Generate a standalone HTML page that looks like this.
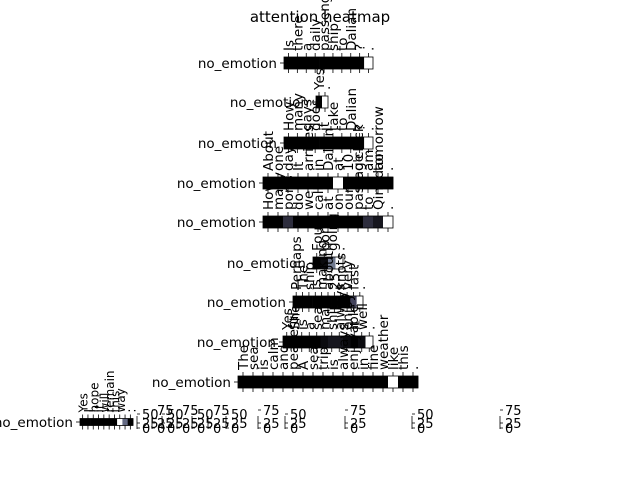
<!DOCTYPE html>
<html><head><meta charset="utf-8">
<style>
html,body{margin:0;padding:0;background:#fff;}
svg{display:block;font-family:"DejaVu Sans","Liberation Sans",sans-serif;}
</style></head>
<body>
<svg id="chart" width="640" height="480" viewBox="0 0 640 480">
<text x="320" y="22" text-anchor="middle" font-size="15">attention heatmap</text>
<g id="rows"></g>
<g id="cbars"></g>
</svg>
<script>
const rowWords = [
 ["Is","there","a","daily","passenger","ship","to","Dalian","?","."],
 ["Yes","."],
 ["How","many","days","does","it","take","to","Dalian","?","."],
 ["About","one","day","It","arrives","in","Dalian","at","10","o'clock","am","tomorrow","."],
 ["How","many","ports","do","we","call","at","on","our","passage","to","Qingdao","."],
 ["Four","ports","going","."],
 ["Perhaps","The","ship","is","making","about","25","knots","very","fast","."],
 ["Yes","She","is","a","sea","mark","ship","always","enjoy","it","well","."],
 ["The","sea","is","calm","and","peaceful","A","sea","trip","is","always","enjoyable","in","fine","weather","like","this","."],
 ["Yes","I","hope","it","will","remain","this","way",".","."]
];
const rowValues = [
 [0,0,0,0,0,0,0,0,0,1],
 [0,1],
 [0,0,0,0,0,0,0,0,0,1],
 [0,0,0,0,0,0,0,1,0,0,0,0,0],
 [0,0,0.2,0,0,0,0,0,0,0,0.2,0.1,1],
 [0,0.05,0.5,1],
 [0,0,0,0,0,0,0,0,0,0.3,1],
 [0,0,0,0,0,0.05,0.1,0.1,0.05,0,0.05,1],
 [0,0,0,0,0,0,0,0,0,0,0,0,0,0,0,1,0,0],
 [0,0,0,0,0,0,0,1,0.45,0]
];
const rowBoxes = [[284,373,63],[316,328,102],[284,373,143],[263,393,183],[263,393,222],[313,343,263],[293,363,302],[283,373,342],[238,418,382],[80,133,422]];
const ns="http://www.w3.org/2000/svg";
function bone(v){
  const r=v<0.75? v*0.875 : 0.656+(v-0.75)*1.375;
  const g=v<0.375? v*0.875 : (v<0.75? 0.328+(v-0.375)*1.16 : 0.763+(v-0.75)*0.95);
  const b=v<0.375? v*1.19 : 0.446+(v-0.375)*0.885;
  const c=x=>Math.round(Math.min(1,Math.max(0,x))*255);
  return `rgb(${c(r)},${c(g)},${c(b)})`;
}
const G=document.getElementById('rows');
function el(tag,attrs,parent){const e=document.createElementNS(ns,tag);for(const k in attrs)e.setAttribute(k,attrs[k]);parent.appendChild(e);return e;}
rowValues.forEach((vals,i)=>{
  const [x0,x1,yc]=rowBoxes[i];
  const n=vals.length, w=(x1-x0)/n, h=i===9?7:12;
  const g=el('g',{},G);
  
  
  vals.forEach((v,j)=>{
    const r=el('rect',{x:x0+j*w,y:yc-h/2,width:w+0.3,height:h,fill:bone(v)},g);
    
    
    const cx=x0+j*w+w/2;
    el('line',{x1:cx,x2:cx,y1:yc+h/2,y2:yc+h/2+4,stroke:'#000','stroke-width':0.8},g);
    el('line',{x1:cx,x2:cx,y1:yc-h/2,y2:yc-h/2-4,stroke:'#000','stroke-width':0.8},g);
    const t=el('text',{x:0,y:0,'font-size':i===9?12:13.5,transform:`translate(${cx+5},${yc-h/2-6}) rotate(-90)`},g);
    t.textContent=rowWords[i][j];
    
    
  });
  el('rect',{x:x0,y:yc-h/2,width:x1-x0,height:h,fill:'none',stroke:'#000','stroke-width':0.8},g);
  el('line',{x1:x0-4,x2:x0,y1:yc,y2:yc,stroke:'#000','stroke-width':0.8},g);
  const lab=el('text',{x:x0-7,y:yc+5,'font-size':13.5,'text-anchor':'end'},g);
  lab.textContent='no_emotion';
  
  
});
const cbX=[137,152,162,177,192,208,226,258,285,345,412,500];
const C=document.getElementById('cbars');
cbX.forEach((x,k)=>{
  const g=el('g',{},C);
  
  
  el('line',{x1:x,x2:x,y1:416,y2:429,stroke:'#000','stroke-width':0.8},g);
  [['50',418],['75',414],['25',427],['0',432]].forEach(([s,y],q)=>{
    if((k%2===0&&q===1)||(k%2===1&&q===0)) return;
    el('line',{x1:x,x2:x+3,y1:y-4,y2:y-4,stroke:'#000','stroke-width':0.8},g);
    const t=el('text',{x:x+5,y:y+1,'font-size':13},g);
    t.textContent=s;
  });
});
</script>
</body></html>
